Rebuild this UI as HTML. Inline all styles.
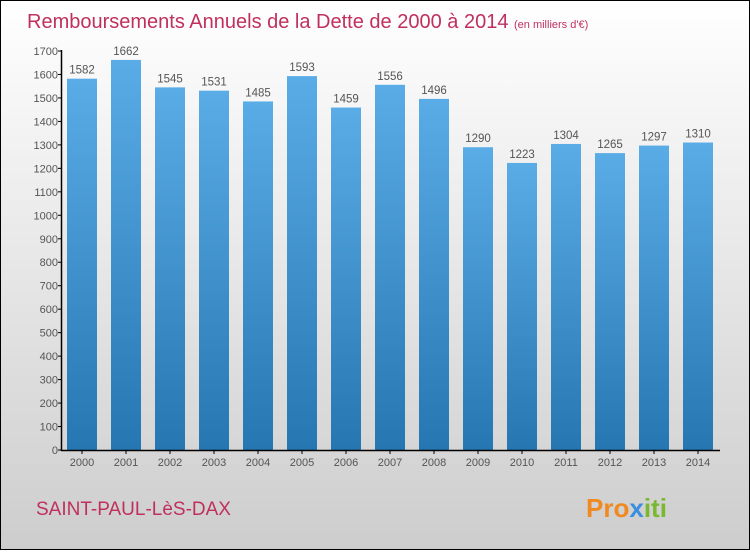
<!DOCTYPE html>
<html><head><meta charset="utf-8"><style>
body{margin:0}
svg text{font-family:"Liberation Sans",sans-serif}
</style></head><body>
<svg id="chart" width="750" height="550" xmlns="http://www.w3.org/2000/svg">
<defs>
<linearGradient id="bg" x1="0" y1="0" x2="0" y2="1"><stop offset="0" stop-color="#ffffff"/><stop offset="1" stop-color="#cdcdcd"/></linearGradient>
<linearGradient id="bar" x1="0" y1="0" x2="0" y2="1"><stop offset="0" stop-color="#5aace6"/><stop offset="1" stop-color="#2676b2"/></linearGradient>
</defs>
<rect x="0.5" y="0.5" width="749" height="549" fill="url(#bg)" stroke="#000"/>
<text x="27" y="28" font-size="20" fill="#c0305e">Remboursements Annuels de la Dette de 2000 à 2014 <tspan font-size="11">(en milliers d'€)</tspan></text>
<text x="36" y="515" font-size="19" fill="#c0305e">SAINT-PAUL-LèS-DAX</text>
<text x="586" y="517" font-size="26" font-weight="bold" fill="#f08a20">Pro<tspan fill="#3a8ee0">x</tspan><tspan fill="#7ab830">iti</tspan></text>
<g id="bars"></g>
<g id="axes"></g>
</svg>
<script>
const years=["2000","2001","2002","2003","2004","2005","2006","2007","2008","2009","2010","2011","2012","2013","2014"];
const values=[1582,1662,1545,1531,1485,1593,1459,1556,1496,1290,1223,1304,1265,1297,1310];
const yTicks=[0,100,200,300,400,500,600,700,800,900,1000,1100,1200,1300,1400,1500,1600,1700];
const NS="http://www.w3.org/2000/svg";
const y0=450,yTop=51,yMax=1700;
function ys(v){return y0-(y0-yTop)*v/yMax;}
function xc(i){return 82+i*44;}
function mk(t,a,p,txt){const e=document.createElementNS(NS,t);for(const k in a)e.setAttribute(k,a[k]);if(txt!==undefined)e.textContent=txt;p.appendChild(e);return e;}
const gb=document.getElementById('bars'),ga=document.getElementById('axes');
values.forEach((v,i)=>{
 const r=mk('rect',{x:xc(i)-15,y:ys(v),width:30,height:y0-ys(v),fill:'url(#bar)'},gb);
 
 
 const t=mk('text',{x:xc(i),y:ys(v)-5,'font-size':11.5,fill:'#555','text-anchor':'middle'},gb,String(v));
 
 
 const xl=mk('text',{x:xc(i),y:466,'font-size':11,fill:'#555','text-anchor':'middle'},ga,years[i]);
 
 
 mk('line',{x1:xc(i),x2:xc(i),y1:450,y2:454,stroke:'#000'},ga);
});
yTicks.forEach(v=>{
 mk('line',{x1:58,x2:62,y1:ys(v),y2:ys(v),stroke:'#000'},ga);
 const t=mk('text',{x:58,y:ys(v)+4,'font-size':11,fill:'#555','text-anchor':'end'},ga,String(v));
 
 
});
const ya=mk('line',{x1:61.5,x2:61.5,y1:50,y2:451,stroke:'#000','stroke-width':1.5},ga);


const xa=mk('line',{x1:61,x2:720,y1:450.5,y2:450.5,stroke:'#000','stroke-width':1.5},ga);


</script>
</body></html>
